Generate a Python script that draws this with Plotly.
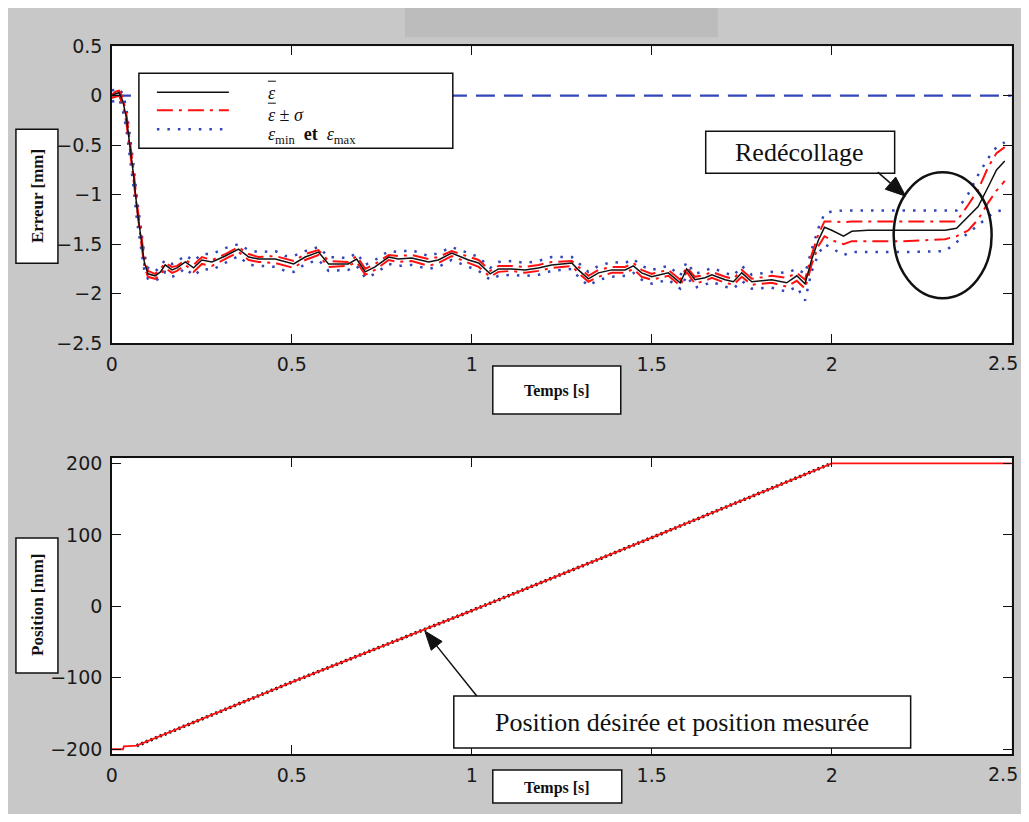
import math
import plotly.graph_objects as go

# ---------------- data ----------------
err_t = [0.000, 0.010, 0.020, 0.030, 0.040, 0.050, 0.060, 0.070, 0.080, 0.090,
         0.100, 0.120, 0.135, 0.148, 0.167, 0.181, 0.204, 0.227, 0.250, 0.278,
         0.315, 0.352, 0.380, 0.407, 0.454, 0.481, 0.505, 0.537, 0.574, 0.602,
         0.657, 0.680, 0.704, 0.731, 0.769, 0.796, 0.833, 0.880, 0.907, 0.944,
         0.991, 1.019, 1.051, 1.074, 1.111, 1.148, 1.185, 1.222, 1.278, 1.296,
         1.324, 1.352, 1.389, 1.426, 1.449, 1.472, 1.500, 1.546, 1.579, 1.597,
         1.620, 1.648, 1.667, 1.704, 1.727, 1.750, 1.778, 1.833, 1.875, 1.903,
         1.926, 1.944, 1.963, 1.980, 2.000, 2.033, 2.056, 2.100, 2.200, 2.315,
         2.347, 2.380, 2.407, 2.435, 2.458, 2.481]
err_mean = [0.00, 0.02, 0.03, -0.05, -0.22, -0.50, -0.80, -1.15, -1.40, -1.68,
            -1.80, -1.82, -1.78, -1.71, -1.76, -1.74, -1.68, -1.74, -1.66, -1.68,
            -1.62, -1.55, -1.63, -1.65, -1.65, -1.68, -1.70, -1.63, -1.58, -1.70,
            -1.70, -1.65, -1.78, -1.73, -1.63, -1.65, -1.64, -1.68, -1.66, -1.59,
            -1.66, -1.69, -1.80, -1.75, -1.75, -1.76, -1.74, -1.71, -1.69, -1.76,
            -1.85, -1.79, -1.76, -1.76, -1.72, -1.79, -1.83, -1.79, -1.89, -1.75,
            -1.86, -1.84, -1.81, -1.86, -1.88, -1.79, -1.88, -1.86, -1.89, -1.82,
            -1.90, -1.66, -1.46, -1.33, -1.36, -1.42, -1.37, -1.36, -1.36, -1.36,
            -1.34, -1.22, -1.12, -0.92, -0.75, -0.66]
err_upper = [0.01, 0.04, 0.05, -0.02, -0.18, -0.45, -0.75, -1.10, -1.36, -1.64,
             -1.77, -1.80, -1.75, -1.69, -1.73, -1.72, -1.66, -1.71, -1.63, -1.66,
             -1.60, -1.53, -1.60, -1.63, -1.62, -1.65, -1.67, -1.60, -1.56, -1.67,
             -1.68, -1.62, -1.75, -1.70, -1.61, -1.62, -1.61, -1.65, -1.63, -1.57,
             -1.63, -1.66, -1.77, -1.72, -1.72, -1.73, -1.71, -1.68, -1.67, -1.73,
             -1.82, -1.76, -1.73, -1.73, -1.69, -1.76, -1.80, -1.76, -1.86, -1.73,
             -1.83, -1.81, -1.78, -1.83, -1.85, -1.76, -1.85, -1.82, -1.84, -1.79,
             -1.86, -1.61, -1.40, -1.27, -1.27, -1.28, -1.27, -1.27, -1.27, -1.27,
             -1.27, -1.10, -0.95, -0.72, -0.58, -0.52]
err_lower = [-0.02, -0.01, 0.00, -0.09, -0.27, -0.55, -0.85, -1.20, -1.45, -1.72,
             -1.83, -1.85, -1.81, -1.74, -1.79, -1.77, -1.71, -1.78, -1.70, -1.72,
             -1.65, -1.58, -1.66, -1.68, -1.69, -1.72, -1.74, -1.66, -1.61, -1.73,
             -1.72, -1.68, -1.81, -1.76, -1.66, -1.68, -1.67, -1.72, -1.69, -1.62,
             -1.69, -1.73, -1.83, -1.78, -1.77, -1.79, -1.77, -1.74, -1.72, -1.79,
             -1.88, -1.83, -1.79, -1.79, -1.75, -1.83, -1.86, -1.82, -1.92, -1.78,
             -1.90, -1.87, -1.84, -1.89, -1.91, -1.83, -1.91, -1.89, -1.93, -1.87,
             -1.95, -1.71, -1.52, -1.42, -1.46, -1.50, -1.47, -1.47, -1.47, -1.45,
             -1.42, -1.36, -1.25, -1.08, -0.96, -0.86]
err_max = [0.05, 0.07, 0.07, 0.02, -0.12, -0.40, -0.70, -1.05, -1.30, -1.60,
           -1.74, -1.78, -1.72, -1.66, -1.70, -1.68, -1.61, -1.67, -1.60, -1.60,
           -1.54, -1.50, -1.56, -1.58, -1.57, -1.62, -1.62, -1.57, -1.53, -1.63,
           -1.64, -1.59, -1.71, -1.66, -1.57, -1.58, -1.56, -1.62, -1.59, -1.53,
           -1.59, -1.63, -1.74, -1.68, -1.67, -1.69, -1.67, -1.63, -1.63, -1.69,
           -1.78, -1.72, -1.68, -1.69, -1.65, -1.72, -1.76, -1.72, -1.82, -1.68,
           -1.80, -1.77, -1.74, -1.79, -1.82, -1.72, -1.81, -1.78, -1.79, -1.75,
           -1.80, -1.56, -1.34, -1.19, -1.17, -1.16, -1.16, -1.16, -1.16, -1.16,
           -1.16, -0.99, -0.80, -0.63, -0.52, -0.47]
err_min = [-0.06, -0.05, -0.03, -0.14, -0.33, -0.62, -0.92, -1.27, -1.50, -1.76,
           -1.85, -1.87, -1.84, -1.78, -1.83, -1.81, -1.74, -1.82, -1.75, -1.76,
           -1.69, -1.62, -1.71, -1.72, -1.73, -1.77, -1.78, -1.70, -1.66, -1.77,
           -1.76, -1.72, -1.84, -1.80, -1.70, -1.72, -1.71, -1.75, -1.73, -1.66,
           -1.73, -1.77, -1.86, -1.82, -1.81, -1.82, -1.81, -1.77, -1.75, -1.83,
           -1.92, -1.86, -1.83, -1.82, -1.79, -1.86, -1.90, -1.86, -1.95, -1.82,
           -1.94, -1.91, -1.88, -1.93, -1.95, -1.87, -1.95, -1.94, -1.98, -1.93,
           -2.07, -1.78, -1.60, -1.50, -1.54, -1.61, -1.58, -1.58, -1.58, -1.57,
           -1.48, -1.38, -1.31, -1.22, -1.17, -1.15]
ref_t = [0.0, 2.5]
ref_err = [0.0, 0.0]

pos_meas_t = [0.000, 0.031, 0.033, 0.069, 0.500, 1.000, 1.500, 2.000, 2.500]
pos_meas = [-200, -200, -196, -195, -106, -6, 96, 200, 200]
pos_des_t = [0.069, 0.500, 1.000, 1.500, 2.000]
pos_des = [-195, -106, -6, 96, 200]

x_ticks = [0, 0.5, 1, 1.5, 2, 2.5]
x_tick_labels = ["0", "0.5", "1", "1.5", "2", "2.5"]
err_ticks = [-2.5, -2, -1.5, -1, -0.5, 0, 0.5]
pos_ticks = [-200, -100, 0, 100, 200]

# ---------------- layout helpers ----------------
# Page body keeps its 8px margin; the figure fills the rest of the window.
PAGE_W, PAGE_H = 1029, 822
OFF = 8
W, H = PAGE_W - 2 * OFF, PAGE_H - 2 * OFF
# calibration of the photographed page (measured on a previous render)
SX, BX = 0.9944, 6.1
SY, BY = 0.973, 11.0


def px(x):
    xi = (x - BX) / SX
    return (xi - OFF) / W


def py(y):
    yi = (y - BY) / SY
    return 1 - (yi - OFF) / H


BLUE = "#3346b8"
RED = "#ff1010"
INK = "#111111"
GRAY = "#c8c8c8"
SERIF = "Liberation Serif, Times New Roman, serif"
TICKFONT = dict(family="DejaVu Sans", size=19, color="#1a1a1a")
DASHDOT = "16px,6px,3px,6px"
DOTS = "2.5px,8px"

fig = go.Figure()

# top chart
fig.add_trace(go.Scatter(x=ref_t, y=ref_err, mode="lines", xaxis="x", yaxis="y",
                         line=dict(color=BLUE, width=2.2, dash="19px,9px")))
fig.add_trace(go.Scatter(x=err_t, y=err_max, mode="lines", xaxis="x", yaxis="y",
                         line=dict(color=BLUE, width=2.5, dash=DOTS)))
fig.add_trace(go.Scatter(x=err_t, y=err_min, mode="lines", xaxis="x", yaxis="y",
                         line=dict(color=BLUE, width=2.5, dash=DOTS)))
fig.add_trace(go.Scatter(x=err_t, y=err_upper, mode="lines", xaxis="x", yaxis="y",
                         line=dict(color=RED, width=2, dash=DASHDOT)))
fig.add_trace(go.Scatter(x=err_t, y=err_lower, mode="lines", xaxis="x", yaxis="y",
                         line=dict(color=RED, width=2, dash=DASHDOT)))
fig.add_trace(go.Scatter(x=err_t, y=err_mean, mode="lines", xaxis="x", yaxis="y",
                         line=dict(color=INK, width=1.5)))

# bottom chart
fig.add_trace(go.Scatter(x=pos_des_t, y=pos_des, mode="lines", xaxis="x2", yaxis="y2",
                         line=dict(color=INK, width=3.5, dash="2px,3px")))
fig.add_trace(go.Scatter(x=pos_meas_t, y=pos_meas, mode="lines", xaxis="x2", yaxis="y2",
                         line=dict(color=RED, width=1.8)))

axis_common = dict(showgrid=False, zeroline=False, showline=True, linecolor=INK,
                   linewidth=1.5, mirror="ticks", ticks="inside", ticklen=9,
                   tickwidth=1.3, tickcolor=INK, tickfont=TICKFONT)

fig.update_layout(
    width=W, height=H, margin=dict(l=0, r=0, t=0, b=0),
    paper_bgcolor=GRAY, plot_bgcolor="white", showlegend=False,
    xaxis=dict(domain=[px(112), px(1012)], anchor="y", range=[0, 2.5],
               tickvals=x_ticks, ticktext=x_tick_labels, ticklabelstandoff=3, **axis_common),
    yaxis=dict(domain=[py(343), py(46)], anchor="x", range=[-2.5, 0.5],
               tickvals=err_ticks, ticklabelstandoff=4, **axis_common),
    xaxis2=dict(domain=[px(112), px(1012)], anchor="y2", range=[0, 2.5],
                tickvals=x_ticks, ticktext=x_tick_labels, ticklabelstandoff=3, **axis_common),
    yaxis2=dict(domain=[py(754), py(458)], anchor="x2", range=[-206.6, 207.4],
                tickvals=pos_ticks, ticklabelstandoff=4, **axis_common),
)

shapes = []


def rect(x0, y0, x1, y1, fill, line_color=None, lw=0):
    shapes.append(dict(type="rect", xref="paper", yref="paper",
                       x0=px(x0), x1=px(x1), y0=py(y1), y1=py(y0),
                       fillcolor=fill,
                       line=dict(color=line_color or fill, width=lw)))


def seg(x0, y0, x1, y1, color, width, dash="solid"):
    shapes.append(dict(type="line", xref="paper", yref="paper",
                       x0=px(x0), x1=px(x1), y0=py(y0), y1=py(y1),
                       line=dict(color=color, width=width, dash=dash)))


def arrow(x0, y0, x1, y1, head_len, head_half):
    dx, dy = x1 - x0, y1 - y0
    n = math.hypot(dx, dy)
    ux, uy = dx / n, dy / n
    bx, by = x1 - ux * head_len, y1 - uy * head_len
    seg(x0, y0, bx, by, INK, 1.5)
    p1 = (bx - uy * head_half, by + ux * head_half)
    p2 = (bx + uy * head_half, by - ux * head_half)
    path = "M {:.5f},{:.5f} L {:.5f},{:.5f} L {:.5f},{:.5f} Z".format(
        px(x1), py(y1), px(p1[0]), py(p1[1]), px(p2[0]), py(p2[1]))
    shapes.append(dict(type="path", xref="paper", yref="paper", path=path,
                       fillcolor=INK, line=dict(color=INK, width=1)))


# darker strip at the top
rect(405, 5, 718, 37, "#bcbcbc")

# legend
rect(139, 73, 453, 148, "white", INK, 1.5)
seg(157, 92, 229, 92, INK, 1.5)
seg(157, 110, 229, 110, RED, 2, DASHDOT)
seg(157, 129, 229, 129, BLUE, 2.5, DOTS)
seg(268, 81, 276, 81, INK, 1)
seg(268, 103, 276, 103, INK, 1)

# label boxes
rect(16, 129, 58, 263, "white", INK, 1.5)
rect(16, 538, 58, 673, "white", INK, 1.5)
rect(493, 366, 621, 414, "white", INK, 1.5)
rect(493, 770, 622, 803, "white", INK, 1.5)
rect(706, 131, 895, 173, "white", INK, 1.5)
rect(454, 696, 911, 748, "white", INK, 1.5)

# ellipse
shapes.append(dict(type="circle", xref="paper", yref="paper",
                   x0=px(894), x1=px(992), y0=py(298), y1=py(172),
                   line=dict(color=INK, width=2.5)))

# arrows
arrow(878, 172, 906, 196, 20, 8)
arrow(477, 696, 425, 631, 19, 7)

fig.update_layout(shapes=shapes)


def text(x, y, s, size, angle=0, xanchor="center", family=SERIF):
    fig.add_annotation(x=px(x), y=py(y), xref="paper", yref="paper", text=s,
                       showarrow=False, xanchor=xanchor, yanchor="middle",
                       textangle=angle, font=dict(family=family, size=size, color=INK))


text(37, 196, "<b>Erreur [mm]</b>", 17, angle=-90)
text(37, 605, "<b>Position [mm]</b>", 17, angle=-90)
text(557, 391, "<b>Temps [s]</b>", 16)
text(557, 788, "<b>Temps [s]</b>", 16)
text(800, 152, "Redécollage", 26)
text(682, 722, "Position désirée et position mesurée", 26)

text(266, 93, "<i>ε</i>", 18, xanchor="left")
text(266, 115, "<i>ε</i> ± <i>σ</i>", 18, xanchor="left")
text(266, 135, "<i>ε</i><sub>min</sub>  <b>et</b>  <i>ε</i><sub>max</sub>", 18, xanchor="left")

# last x tick label sits at the page edge: keep it inside the figure,
# tied to the axis value so it stays on the 2.5 tick
for xa, axis_bottom in (("x", 343), ("x2", 754)):
    fig.add_annotation(x=x_ticks[-1], xref=xa, y=py(axis_bottom + 20), yref="paper",
                       text=x_tick_labels[-1], showarrow=False, xanchor="right",
                       yanchor="middle", xshift=8, font=TICKFONT)

fig.write_html("out.html", config={"displayModeBar": False})
